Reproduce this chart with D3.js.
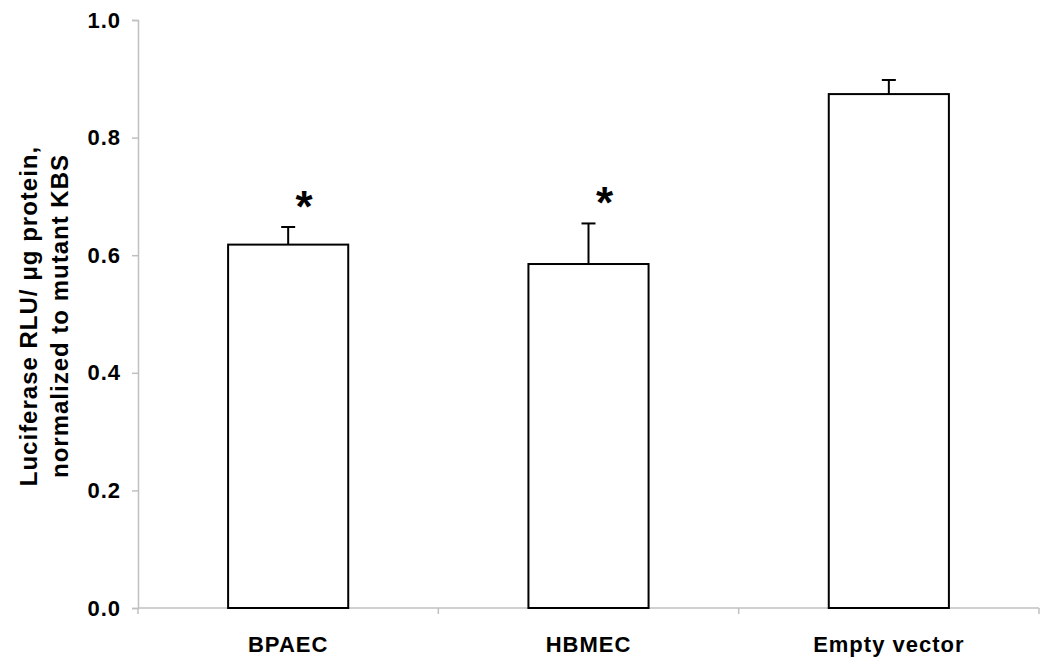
<!DOCTYPE html>
<html>
<head>
<meta charset="utf-8">
<script src="https://cdn.jsdelivr.net/npm/d3@7"></script>
<style>
  body { margin: 0; background: #fff; }
  svg text { font-family: Arial, "Liberation Sans", sans-serif; font-weight: bold; fill: #000; }
</style>
</head>
<body>
<div id="chart"></div>
<script>
var categories = ["BPAEC", "HBMEC", "Empty vector"];
var values = [0.618, 0.585, 0.874];
var errors = [0.030, 0.069, 0.024];
var stars = ["*", "*", ""];
var yTicks = [0, 0.2, 0.4, 0.6, 0.8, 1.0];

var margin = {top: 20, right: 11, bottom: 59, left: 138},
    width = 1050 - margin.left - margin.right,
    height = 667 - margin.top - margin.bottom;

var svg = d3.select("#chart").append("svg")
    .attr("width", width + margin.left + margin.right)
    .attr("height", height + margin.top + margin.bottom)
  .append("g")
    .attr("transform", "translate(" + margin.left + "," + margin.top + ")");

var x = d3.scaleBand()
    .domain(categories)
    .range([0, width])
    .paddingInner(0.6)
    .paddingOuter(0.3);

var y = d3.scaleLinear()
    .domain([0, 1])
    .range([height, 0]);

// y axis
var yAxis = svg.append("g")
    .call(d3.axisLeft(y).tickValues(yTicks).tickFormat(d3.format(".1f")).tickSize(6).tickPadding(11));
yAxis.select(".domain").attr("stroke", "#c0c0c0").attr("stroke-width", 1.5);
yAxis.selectAll(".tick line").attr("stroke", "#c0c0c0").attr("stroke-width", 1.5);
yAxis.selectAll(".tick text")
    .style("font-size", "22px")
    .style("letter-spacing", "1px")
    .attr("font-family", null);

// x axis: line with separator ticks between categories
var step = width / categories.length;
svg.append("line")
    .attr("x1", 0).attr("x2", width)
    .attr("y1", height).attr("y2", height)
    .attr("stroke", "#c0c0c0").attr("stroke-width", 1.5);
svg.selectAll(".sep")
    .data(d3.range(categories.length + 1))
  .enter().append("line")
    .attr("x1", function(d) { return d * step; })
    .attr("x2", function(d) { return d * step; })
    .attr("y1", height).attr("y2", height + 6)
    .attr("stroke", "#c0c0c0").attr("stroke-width", 1.5);

svg.selectAll(".xlabel")
    .data(categories)
  .enter().append("text")
    .attr("x", function(d) { return x(d) + x.bandwidth() / 2; })
    .attr("y", height + 44)
    .attr("text-anchor", "middle")
    .style("font-size", "22px")
    .style("letter-spacing", "1px")
    .text(function(d) { return d; });

// bars
svg.selectAll(".bar")
    .data(values)
  .enter().append("rect")
    .attr("x", function(d, i) { return x(categories[i]); })
    .attr("y", function(d) { return y(d); })
    .attr("width", x.bandwidth())
    .attr("height", function(d) { return height - y(d); })
    .attr("fill", "#fff")
    .attr("stroke", "#000")
    .attr("stroke-width", 2);

// error bars
var cx = function(i) { return x(categories[i]) + x.bandwidth() / 2; };
svg.selectAll(".err")
    .data(values)
  .enter().append("line")
    .attr("x1", function(d, i) { return cx(i); })
    .attr("x2", function(d, i) { return cx(i); })
    .attr("y1", function(d) { return y(d); })
    .attr("y2", function(d, i) { return y(d + errors[i]); })
    .attr("stroke", "#000").attr("stroke-width", 2);
svg.selectAll(".cap")
    .data(values)
  .enter().append("line")
    .attr("x1", function(d, i) { return cx(i) - 7; })
    .attr("x2", function(d, i) { return cx(i) + 7; })
    .attr("y1", function(d, i) { return y(d + errors[i]); })
    .attr("y2", function(d, i) { return y(d + errors[i]); })
    .attr("stroke", "#000").attr("stroke-width", 2);

// significance stars
svg.selectAll(".star")
    .data(values)
  .enter().append("text")
    .attr("x", function(d, i) { return cx(i) + 16; })
    .attr("y", function(d, i) { return y(d + errors[i]) - 5; })
    .attr("text-anchor", "middle")
    .style("font-size", "44px")
    .text(function(d, i) { return stars[i]; });

// y title
var title = svg.append("text")
    .attr("transform", "rotate(-90)")
    .attr("y", -101)
    .attr("text-anchor", "middle")
    .style("font-size", "24px")
    .style("letter-spacing", "1px");
title.append("tspan").attr("x", -height / 2 - 2).attr("dy", 0).text("Luciferase RLU/ \u03bcg protein,");
title.append("tspan").attr("x", -height / 2 - 2).attr("dy", 31).text("normalized to mutant KBS");
</script>
</body>
</html>
